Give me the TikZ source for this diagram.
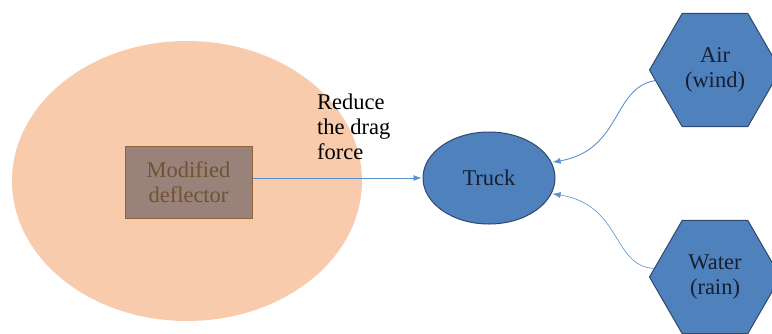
\documentclass[tikz,border=0pt]{standalone}
\usepackage{fontspec}
\setmainfont{Liberation Serif}
\newfontfamily\timesfont{Liberation Serif}
\usetikzlibrary{shapes.geometric,arrows.meta}
\definecolor{peach}{RGB}{248,203,173}
\definecolor{boxfill}{RGB}{152,130,121}
\definecolor{boxline}{RGB}{146,98,58}
\definecolor{boxtext}{RGB}{112,82,52}
\definecolor{nodeblue}{RGB}{79,129,189}
\definecolor{nodeline}{RGB}{47,72,110}
\definecolor{arrowblue}{RGB}{91,145,205}
\definecolor{darktext}{RGB}{22,30,48}

\begin{document}
\begin{tikzpicture}[>={Latex[length=8pt,width=6pt]},x=1pt,y=-1pt,font=\timesfont\fontsize{22.5}{25}\selectfont,
	zone/.style={ellipse,minimum width=350pt,minimum height=280pt,inner sep=0pt,fill=peach},
	deflbox/.style={rectangle,minimum width=127pt,minimum height=72pt,inner sep=0pt,fill=boxfill,draw=boxline,line width=1pt,text=boxtext,align=center},
	truckbox/.style={ellipse,minimum width=132pt,minimum height=92pt,inner sep=0pt,fill=nodeblue,draw=nodeline,line width=1pt,text=darktext},
	hexbox/.style={regular polygon,regular polygon sides=6,minimum size=131pt,inner sep=0pt,fill=nodeblue,draw=nodeline,line width=1pt,text=darktext,align=center},
	flow/.style={->,draw=arrowblue,line width=0.9pt,shorten >=1pt}]
	\useasboundingbox (0,0) rectangle (772,333);
	\node [zone] at (187,181) (Zone) {};
	\node [deflbox] at (188.5,182) (Deflector) {Modified\\deflector};
	\node [truckbox] at (489,178) (Truck) {Truck};
	\node [hexbox] at (715,70) (Air) {Air\\(wind)};
	\node [hexbox] at (715,277) (Water) {Water\\(rain)};
	\node [anchor=north west,align=left,inner sep=0pt] at (317,94) (Reduce) {Reduce\\the drag\\force};
	\draw [flow,line width=0.6pt] (Deflector.east |- Truck) -- (Truck.west);
	\draw [flow] (Air.190) .. controls (612,88) and (622,150) .. (Truck.14);
	\draw [flow,line width=0.6pt] (Water.172) .. controls (612,266) and (622,205) .. (Truck.-14);
\end{tikzpicture}
\end{document}
